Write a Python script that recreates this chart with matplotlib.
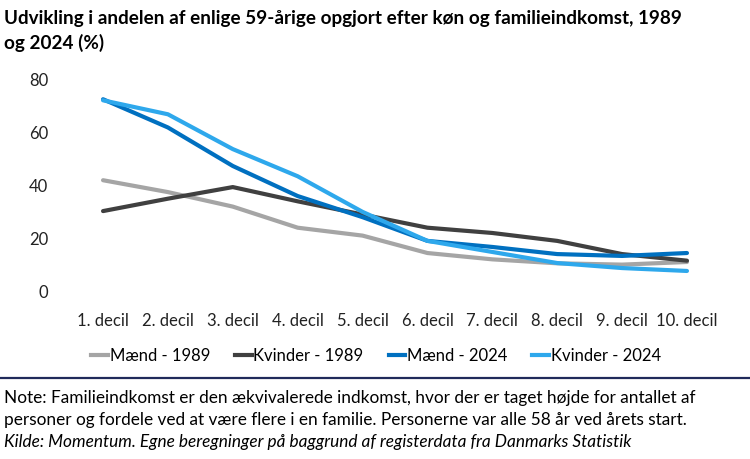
import matplotlib
matplotlib.use("Agg")
import matplotlib.pyplot as plt
from matplotlib.lines import Line2D

plt.rcParams['font.family'] = ['Lato', 'DejaVu Sans']

deciler = ["1. decil", "2. decil", "3. decil", "4. decil", "5. decil",
           "6. decil", "7. decil", "8. decil", "9. decil", "10. decil"]
maend_1989 = [42, 37.5, 32, 24, 21, 14.4, 12, 10.5, 10, 11]
kvinder_1989 = [30.3, 35, 39.4, 34, 29, 24, 22, 19, 14, 11.5]
maend_2024 = [72.7, 62, 47.4, 36, 28, 19, 16.7, 14, 13.3, 14.4]
kvinder_2024 = [72.3, 67, 53.8, 43.5, 30, 19, 14.8, 10.6, 8.7, 7.6]
y_ticks = [0, 20, 40, 60, 80]

serier = [
    ("Mænd - 1989", maend_1989, "#A5A5A5"),
    ("Kvinder - 1989", kvinder_1989, "#404040"),
    ("Mænd - 2024", maend_2024, "#0070C0"),
    ("Kvinder - 2024", kvinder_2024, "#2EA8EC"),
]

fig = plt.figure(figsize=(7.5, 4.59), dpi=100)
ax = fig.add_axes([70.6 / 750, 1 - 291 / 459, (719.4 - 70.6) / 750, 211 / 459])

x = range(len(deciler))
for navn, vals, farve in serier:
    ax.plot(x, vals, color=farve, lw=3, label=navn, clip_on=False,
            solid_capstyle='round', solid_joinstyle='round')

ax.set_xlim(-0.5, 9.5)
ax.set_ylim(0, 80)
ax.set_yticks(y_ticks)
ax.set_xticks(list(x))
ax.set_xticklabels(deciler)
ax.tick_params(axis='both', length=0, labelsize=12, colors='#222222')
ax.tick_params(axis='x', pad=16)
ax.tick_params(axis='y', pad=16)
for s in ax.spines.values():
    s.set_visible(False)

handles = [Line2D([], [], color=f, lw=3) for _, _, f in serier]
fig.legend(handles, [n for n, _, _ in serier], loc='center',
           bbox_to_anchor=(376 / 750, 1 - 356 / 459), ncol=4, frameon=False,
           fontsize=12, handlelength=1.0, handletextpad=0.1, columnspacing=1.5)

fig.text(4 / 750, 1 - 31 / 459,
         "Udvikling i andelen af enlige 59-årige opgjort efter køn og familieindkomst, 1989\nog 2024 (%)",
         fontsize=13.6, fontweight='bold', va='center', ha='left', linespacing=1.4)

fig.add_artist(Line2D([0, 1], [1 - 378 / 459] * 2, color='#1F2A5A', lw=1.6))

fig.text(4 / 750, 1 - 398 / 459,
         "Note: Familieindkomst er den ækvivalerede indkomst, hvor der er taget højde for antallet af",
         fontsize=12.4, va='center')
fig.text(4 / 750, 1 - 420 / 459,
         "personer og fordele ved at være flere i en familie. Personerne var alle 58 år ved årets start.",
         fontsize=12.4, va='center')
fig.text(4 / 750, 1 - 442 / 459,
         "Kilde: Momentum. Egne beregninger på baggrund af registerdata fra Danmarks Statistik",
         fontsize=12.4, va='center', style='italic')

fig.savefig("out.png", dpi=100)
